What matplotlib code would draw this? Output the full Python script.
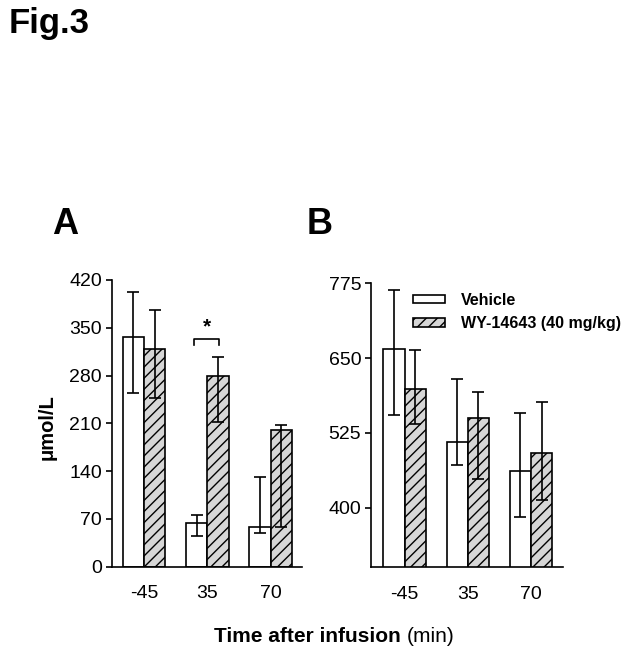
import matplotlib
matplotlib.use("Agg")
import matplotlib.pyplot as plt
import numpy as np

plt.rcParams["font.family"] = ["Liberation Sans", "DejaVu Sans"]
plt.rcParams["hatch.linewidth"] = 1.0

times = ["-45", "35", "70"]
series_names = ["Vehicle", "WY-14643 (40 mg/kg)"]

# panel A
a_vehicle = [336, 64, 58]
a_vehicle_lo = [255, 45, 49]
a_vehicle_hi = [402, 75, 132]
a_wy = [319, 279, 200]
a_wy_lo = [247, 212, 58]
a_wy_hi = [376, 307, 207]
a_ticks = [0, 70, 140, 210, 280, 350, 420]

# panel B
b_vehicle = [665, 509, 462]
b_vehicle_lo = [554, 472, 385]
b_vehicle_hi = [764, 615, 559]
b_wy = [598, 550, 492]
b_wy_lo = [539, 448, 412]
b_wy_hi = [663, 594, 576]
b_ticks = [400, 525, 650, 775]

BAR_W = 0.336
HATCH_FILL = "#d6d6d6"


def draw_panel(ax, veh, veh_lo, veh_hi, wy, wy_lo, wy_hi, ylim, ticks, xlim):
    x = np.arange(len(times))
    xv = x - BAR_W / 2
    xw = x + BAR_W / 2
    ax.bar(xv, veh, width=BAR_W, color="white", edgecolor="black",
           linewidth=1.2, label=series_names[0], zorder=2)
    ax.bar(xw, wy, width=BAR_W, color=HATCH_FILL, edgecolor="black",
           linewidth=1.2, hatch="///", label=series_names[1], zorder=2)
    for xs, m, lo, hi in ((xv, veh, veh_lo, veh_hi), (xw, wy, wy_lo, wy_hi)):
        m = np.array(m)
        yerr = [m - np.array(lo), np.array(hi) - m]
        ax.errorbar(xs, m, yerr=yerr, fmt="none", ecolor="black",
                    elinewidth=1.2, capsize=4.5, capthick=1.2, zorder=3)
    ax.set_xlim(*xlim)
    ax.set_ylim(*ylim)
    ax.set_yticks(ticks)
    ax.set_xticks(x)
    ax.set_xticklabels(times)
    ax.spines["top"].set_visible(False)
    ax.spines["right"].set_visible(False)
    ax.spines["left"].set_linewidth(1.2)
    ax.spines["bottom"].set_linewidth(1.2)
    ax.tick_params(axis="y", length=4, width=1.2, pad=3, labelsize=14)
    ax.tick_params(axis="x", length=0, pad=13, labelsize=14)


fig = plt.figure(figsize=(6.28, 6.6), dpi=100)
ax_a = fig.add_axes([0.1779, 0.1414, 0.3025, 0.4344])
ax_b = fig.add_axes([0.5908, 0.1402, 0.3062, 0.4306])

draw_panel(ax_a, a_vehicle, a_vehicle_lo, a_vehicle_hi,
           a_wy, a_wy_lo, a_wy_hi, (0, 420), a_ticks, (-0.51, 2.49))
draw_panel(ax_b, b_vehicle, b_vehicle_lo, b_vehicle_hi,
           b_wy, b_wy_lo, b_wy_hi, (300, 775), b_ticks, (-0.53, 2.51))

# significance bracket at 35 min
bx0, bx1 = 1 - BAR_W / 2 - 0.04, 1 + BAR_W / 2 + 0.02
ax_a.plot([bx0, bx0, bx1, bx1], [325, 333, 333, 325], color="black", lw=1.2)
ax_a.text((bx0 + bx1) / 2, 352, "*", ha="center", va="center",
          fontsize=15, fontweight="bold")

ax_b.legend(loc="upper left", bbox_to_anchor=(0.22, 0.967), frameon=False,
            prop={"weight": "bold", "size": 11.5},
            handlelength=2.0, handleheight=0.45, handletextpad=1.0,
            labelspacing=0.55, borderpad=0, borderaxespad=0)

fig.text(0.013, 0.99, "Fig.3", fontsize=25, fontweight="bold",
         ha="left", va="top")
fig.text(65 / 628, 1 - 224 / 660, "A", fontsize=26, fontweight="bold",
         ha="center", va="center")
fig.text(320 / 628, 1 - 225 / 660, "B", fontsize=26, fontweight="bold",
         ha="center", va="center")
fig.text(47 / 628, 1 - 427 / 660, "μmol/L", rotation=90, fontsize=14.5,
         fontweight="bold", ha="center", va="center")

# x label: bold part + regular unit, centred as a whole
renderer = fig.canvas.get_renderer()
bold = fig.text(0, 1 - 637 / 660, "Time after infusion ", fontsize=15,
                fontweight="bold", ha="left", va="center")
unit = fig.text(0, 1 - 637 / 660, "(min)", fontsize=15, ha="left",
                va="center")
w_bold = bold.get_window_extent(renderer).width
w_unit = unit.get_window_extent(renderer).width
x0 = 334 - (w_bold + w_unit) / 2
bold.set_x(x0 / 628)
unit.set_x((x0 + w_bold) / 628)

fig.savefig("out.png", dpi=100)
